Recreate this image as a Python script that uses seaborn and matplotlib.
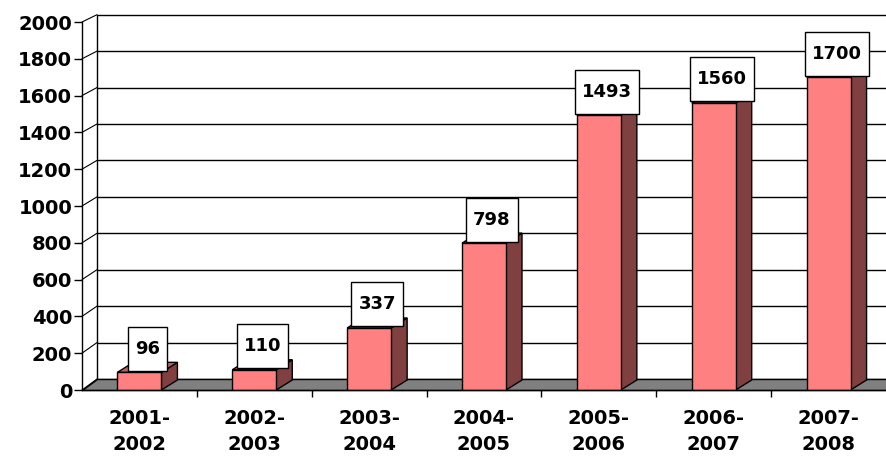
import numpy as np
import pandas as pd
import matplotlib
matplotlib.use("Agg")
from matplotlib import pyplot as plt
from matplotlib.patches import Polygon, Rectangle
from matplotlib.transforms import IdentityTransform
import seaborn as sns

periods = ["2001-\n2002", "2002-\n2003", "2003-\n2004", "2004-\n2005",
           "2005-\n2006", "2006-\n2007", "2007-\n2008"]
values = [96, 110, 337, 798, 1493, 1560, 1700]
y_ticks = list(range(0, 2001, 200))

front_color = "#FF8080"
side_color = "#804040"
top_color = "#C06060"
floor_color = "#808080"

sns.set_style("white")
plt.rcParams['font.family'] = ['DejaVu Sans']
plt.rcParams['text.color'] = 'black'
plt.rcParams['xtick.labelcolor'] = 'black'
plt.rcParams['ytick.labelcolor'] = 'black'

fig = plt.figure(figsize=(8.86, 4.58), dpi=100)
ax = fig.add_axes([82 / 886, 68 / 458, 804 / 886, 368 / 458])

df = pd.DataFrame({'period': periods, 'value': values})
sns.barplot(data=df, x='period', y='value', color=front_color, saturation=1,
            edgecolor='black', linewidth=1, width=0.383, ax=ax, zorder=4)

ax.set_xlim(-0.5, 6.5)
ax.set_ylim(0, 2000)
ax.set_xlabel("")
ax.set_ylabel("")

# pseudo-3d depth (px -> data units)
px_x = 804 / 7
px_y = 368 / 2000
wall_dx, wall_dy = 15 / px_x, 11 / px_y
bar_dx, bar_dy = 16 / px_x, 10 / px_y

def back(v):
    return v * 0.99 + wall_dy

# back wall gridlines and left edge
x_wall = -0.5 + wall_dx
for v in y_ticks:
    ax.plot([x_wall, 6.6], [back(v), back(v)], color='black', lw=1, zorder=1, clip_on=False)
    ax.plot([-0.5, x_wall], [v, back(v)], color='black', lw=0.8, zorder=1, clip_on=False)
ax.plot([x_wall, x_wall], [back(0), back(2000)], color='black', lw=1, zorder=1, clip_on=False)

# floor
floor = Polygon([(-0.5, 0), (6.6, 0), (6.6, back(0)), (x_wall, back(0))],
                closed=True, facecolor=floor_color, edgecolor='black', lw=1, zorder=2, clip_on=False)
ax.add_patch(floor)

# side and top faces of the bars
for p in list(ax.patches):
    if not isinstance(p, Rectangle):
        continue
    x0 = p.get_x()
    x1 = x0 + p.get_width()
    h = p.get_height()
    side = Polygon([(x1, 0), (x1 + bar_dx, bar_dy), (x1 + bar_dx, h + bar_dy), (x1, h)],
                   closed=True, facecolor=side_color, edgecolor='black', lw=1, zorder=3)
    top = Polygon([(x0, h), (x1, h), (x1 + bar_dx, h + bar_dy), (x0 + bar_dx, h + bar_dy)],
                  closed=True, facecolor=top_color, edgecolor='black', lw=1, zorder=3)
    ax.add_patch(side)
    ax.add_patch(top)

# value labels in white boxes
texts = []
for i, v in enumerate(values):
    t = ax.text(i + 0.07, v + 128, str(v), ha='center', va='center', color='black',
                fontsize=13, fontweight='bold', zorder=7, clip_on=False)
    texts.append(t)
fig.canvas.draw()
for t in texts:
    bb = t.get_window_extent()
    cy = (bb.y0 + bb.y1) / 2
    box = Rectangle((bb.x0 - 7, cy - 22), bb.width + 14, 44, transform=IdentityTransform(),
                    facecolor='white', edgecolor='black', lw=1, zorder=6, clip_on=False)
    ax.add_artist(box)

# axes styling
for s in ['top', 'right']:
    ax.spines[s].set_visible(False)
for s in ['left', 'bottom']:
    ax.spines[s].set_color('black')
    ax.spines[s].set_linewidth(1)
    ax.spines[s].set_zorder(5)

ax.set_yticks(y_ticks)
ax.set_yticklabels([str(v) for v in y_ticks], fontsize=14, fontweight='bold', color='black')
ax.tick_params(axis='y', length=6, width=1, color='black', pad=1, left=True)
ax.set_xticks(range(len(periods)))
ax.set_xticklabels(periods, fontsize=14, fontweight='bold', linespacing=1.45, color='black')
ax.tick_params(axis='x', which='major', length=0, pad=14)
ax.set_xticks(np.arange(0.5, 6.5, 1), minor=True)
ax.tick_params(axis='x', which='minor', length=5, width=1, color='black', bottom=True)

plt.savefig("out.png", dpi=100)
plt.close()
